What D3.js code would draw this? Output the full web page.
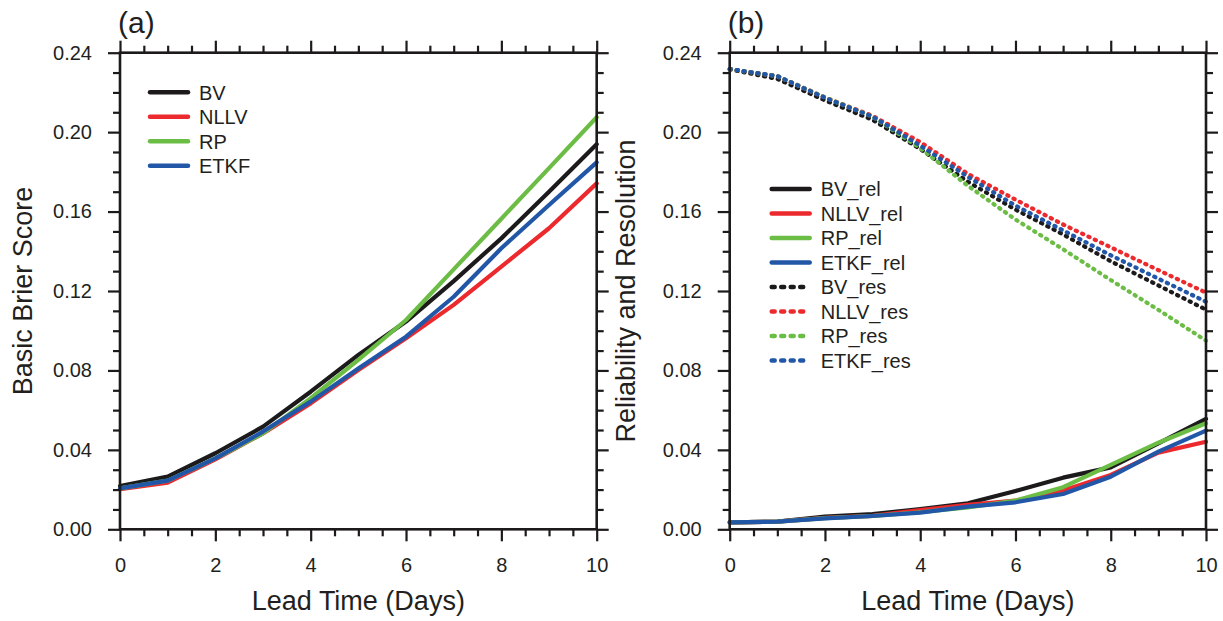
<!DOCTYPE html>
<html>
<head>
<meta charset="utf-8">
<script src="https://cdn.jsdelivr.net/npm/d3@7"></script>
<style>
  body { margin: 0; background: #fff; }
  svg text { font-family: "Liberation Sans", Arial, Helvetica, sans-serif; fill: #231f20; }
</style>
</head>
<body>
<div id="chart"></div>
<script>
/// DATA ///
const days = [0, 1, 2, 3, 4, 5, 6, 7, 8, 9, 10];
const yTicks = [0, 0.04, 0.08, 0.12, 0.16, 0.2, 0.24];
const xTicks = [0, 2, 4, 6, 8, 10];

// panel (a) basic brier score
const bs_BV = [0.0218, 0.0265, 0.0383, 0.0517, 0.0693, 0.0878, 0.1046, 0.1250, 0.1465, 0.1700, 0.1939];
const bs_NLLV = [0.0202, 0.0235, 0.0352, 0.0483, 0.0634, 0.0802, 0.0962, 0.1130, 0.1323, 0.1516, 0.1742];
const bs_RP = [0.0206, 0.0245, 0.0357, 0.0483, 0.0660, 0.0853, 0.1054, 0.1309, 0.1564, 0.1819, 0.2075];
const bs_ETKF = [0.0206, 0.0245, 0.0357, 0.0492, 0.0643, 0.0810, 0.0970, 0.1171, 0.1415, 0.1633, 0.1848];

// panel (b) reliability (solid)
const rel_BV = [0.0035, 0.0039, 0.0064, 0.0076, 0.0102, 0.0131, 0.0193, 0.0260, 0.0312, 0.0433, 0.0556];
const rel_NLLV = [0.0035, 0.0039, 0.0058, 0.0068, 0.0097, 0.0123, 0.0144, 0.0195, 0.0274, 0.0386, 0.0441];
const rel_RP = [0.0035, 0.0039, 0.0056, 0.0067, 0.0086, 0.0110, 0.0144, 0.0212, 0.0324, 0.0436, 0.0534];
const rel_ETKF = [0.0035, 0.0039, 0.0055, 0.0067, 0.0084, 0.0114, 0.0136, 0.0178, 0.0265, 0.0391, 0.0497];

// panel (b) resolution (dashed)
const res_BV = [0.2316, 0.2268, 0.2160, 0.2062, 0.1915, 0.1750, 0.1610, 0.1485, 0.1350, 0.1228, 0.1106];
const res_NLLV = [0.2318, 0.2282, 0.2175, 0.2082, 0.1950, 0.1790, 0.1660, 0.1535, 0.1420, 0.1305, 0.1192];
const res_RP = [0.2318, 0.2282, 0.2175, 0.2078, 0.1920, 0.1730, 0.1560, 0.1410, 0.1255, 0.1105, 0.0950];
const res_ETKF = [0.2318, 0.2282, 0.2173, 0.2078, 0.1932, 0.1775, 0.1630, 0.1505, 0.1380, 0.1262, 0.1146];

const colors = { BV: "#1c1a1a", NLLV: "#ec2a2e", RP: "#6cbd45", ETKF: "#2257a8" };

const width = 1223, height = 621;
const svg = d3.select("#chart").append("svg")
  .attr("width", width).attr("height", height);

// shared scales (each panel gets its own x offset)
const plotH = [52.7, 529.3];
const y = d3.scaleLinear().domain([0, 0.24]).range([plotH[1], plotH[0]]);

function drawPanel(left, right, tag, yTitle, yTitleX, series, legend) {
  const x = d3.scaleLinear().domain([0, 10]).range([left, right]);
  const g = svg.append("g");

  const line = d3.line().x((d, i) => x(days[i])).y((d) => y(d));

  // lines
  series.forEach((s) => {
    g.append("path")
      .datum(s.values)
      .attr("d", line)
      .attr("fill", "none")
      .attr("stroke", colors[s.name])
      .attr("stroke-width", 4.2)
      .attr("stroke-linejoin", "round")
      .attr("stroke-linecap", "round")
      .attr("stroke-dasharray", s.dash ? "1.2 5.8" : null);
  });

  // axes: major + minor ticks outward on all four sides
  const minorX = d3.range(0, 10.01, 0.5).filter((v) => v % 2 !== 0);
  const minorY = d3.range(0, 0.2401, 0.01).filter((v) => Math.round(v * 100) % 4 !== 0);

  const styleAxis = (sel) => {
    sel.select(".domain").remove();
    sel.selectAll("line").attr("stroke", "#1c1a1a").attr("stroke-width", 2.2);
    sel.selectAll("text").style("font-size", "20px").attr("fill", "#231f20");
  };

  g.append("g").attr("transform", `translate(0,${plotH[1]})`)
    .call(d3.axisBottom(x).tickValues(xTicks).tickFormat(d3.format("d")).tickSize(12).tickPadding(17))
    .call(styleAxis);
  g.append("g").attr("transform", `translate(0,${plotH[1]})`)
    .call(d3.axisBottom(x).tickValues(minorX).tickFormat("").tickSize(7))
    .call(styleAxis);
  g.append("g").attr("transform", `translate(0,${plotH[0]})`)
    .call(d3.axisTop(x).tickValues(xTicks).tickFormat("").tickSize(12))
    .call(styleAxis);
  g.append("g").attr("transform", `translate(0,${plotH[0]})`)
    .call(d3.axisTop(x).tickValues(minorX).tickFormat("").tickSize(7))
    .call(styleAxis);

  g.append("g").attr("transform", `translate(${left},0)`)
    .call(d3.axisLeft(y).tickValues(yTicks).tickFormat(d3.format(".2f")).tickSize(12).tickPadding(16))
    .call(styleAxis);
  g.append("g").attr("transform", `translate(${left},0)`)
    .call(d3.axisLeft(y).tickValues(minorY).tickFormat("").tickSize(7))
    .call(styleAxis);
  g.append("g").attr("transform", `translate(${right},0)`)
    .call(d3.axisRight(y).tickValues(yTicks).tickFormat("").tickSize(12))
    .call(styleAxis);
  g.append("g").attr("transform", `translate(${right},0)`)
    .call(d3.axisRight(y).tickValues(minorY).tickFormat("").tickSize(7))
    .call(styleAxis);

  // frame
  g.append("rect")
    .attr("x", left).attr("y", plotH[0])
    .attr("width", right - left).attr("height", plotH[1] - plotH[0])
    .attr("fill", "none").attr("stroke", "#1c1a1a").attr("stroke-width", 2.6);

  // titles
  g.append("text")
    .attr("x", (left + right) / 2).attr("y", 610)
    .attr("text-anchor", "middle").style("font-size", "27px")
    .text("Lead Time (Days)");
  g.append("text")
    .attr("transform", `translate(${yTitleX},${(plotH[0] + plotH[1]) / 2}) rotate(-90)`)
    .attr("text-anchor", "middle").style("font-size", "27px")
    .text(yTitle);
  g.append("text")
    .attr("x", left - 2).attr("y", 33)
    .style("font-size", "30px")
    .text(tag);

  // legend
  const lg = g.append("g");
  legend.items.forEach((s, i) => {
    const ly = legend.y + i * 24.5;
    lg.append("line")
      .attr("x1", left + legend.dx).attr("x2", left + legend.dx + 38)
      .attr("y1", ly).attr("y2", ly)
      .attr("stroke", colors[s.name])
      .attr("stroke-width", 4.5)
      .attr("stroke-linecap", "round")
      .attr("stroke-dasharray", s.dash ? "3 6.5" : null);
    lg.append("text")
      .attr("x", left + legend.dx + 49).attr("y", ly + 7.2)
      .style("font-size", "20px")
      .text(s.label);
  });
}

const seriesA = [
  { name: "BV", values: bs_BV, label: "BV" },
  { name: "NLLV", values: bs_NLLV, label: "NLLV" },
  { name: "RP", values: bs_RP, label: "RP" },
  { name: "ETKF", values: bs_ETKF, label: "ETKF" },
];

const seriesB = [
  { name: "BV", values: rel_BV, label: "BV_rel" },
  { name: "NLLV", values: rel_NLLV, label: "NLLV_rel" },
  { name: "RP", values: rel_RP, label: "RP_rel" },
  { name: "ETKF", values: rel_ETKF, label: "ETKF_rel" },
  { name: "BV", values: res_BV, label: "BV_res", dash: true },
  { name: "NLLV", values: res_NLLV, label: "NLLV_res", dash: true },
  { name: "RP", values: res_RP, label: "RP_res", dash: true },
  { name: "ETKF", values: res_ETKF, label: "ETKF_res", dash: true },
];

drawPanel(120, 596.7, "(a)", "Basic Brier Score", 32, seriesA, { items: seriesA, dx: 30, y: 92.3 });
drawPanel(729.7, 1206, "(b)", "Reliability and Resolution", 635, seriesB, { items: seriesB, dx: 42, y: 189 });
</script>
</body>
</html>
